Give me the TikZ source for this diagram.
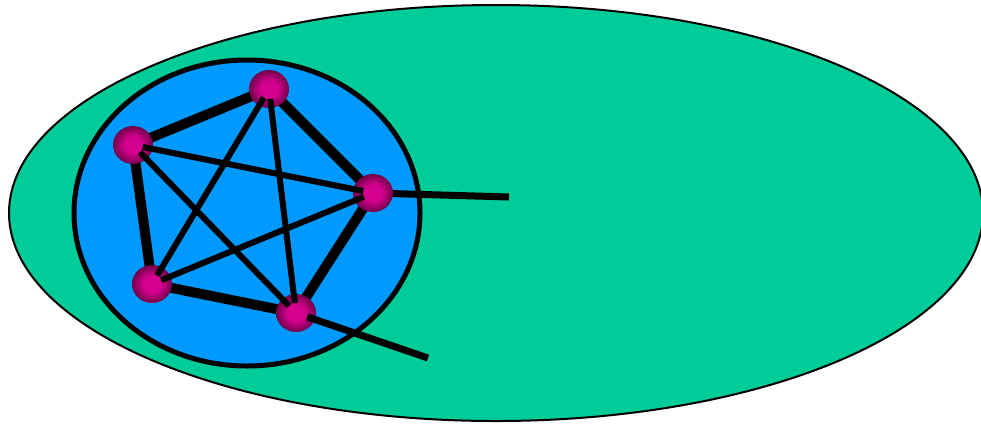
\documentclass[tikz,border=0pt]{standalone}
\usetikzlibrary{shapes.geometric}
\definecolor{greenbg}{HTML}{00CC99}
\definecolor{bluebg}{HTML}{0099FF}
\definecolor{magin}{HTML}{D4008F}
\definecolor{magout}{HTML}{700048}
\pgfdeclareradialshading{sphshade}{\pgfpoint{0bp}{0bp}}{color(0bp)=(magin); color(11bp)=(magin); color(25bp)=(magout); color(50bp)=(magout)}
\tikzset{
  sphere/.style={ellipse, minimum width=40pt, minimum height=38pt, inner sep=0pt, shading=sphshade},
  rim/.style={line width=10pt},
  star/.style={line width=6pt, shorten <=10pt, shorten >=10pt},
  tail/.style={line width=7pt}
}
\begin{document}
\begin{tikzpicture}[x=1pt,y=-1pt]
\useasboundingbox (0,0) rectangle (981,424);
\draw[fill=greenbg, line width=2pt] (496,213) ellipse [x radius=487, y radius=208];
\draw[fill=bluebg, line width=5pt] (247,213) ellipse [x radius=173, y radius=153];
\coordinate (A) at (269,89);
\coordinate (B) at (133,145);
\coordinate (C) at (373,193);
\coordinate (D) at (152,284);
\coordinate (E) at (296,313);
\coordinate (tc) at (509,197);
\coordinate (te) at (428,358);
\draw[rim] (A) -- (B);
\draw[rim] (A) -- (C);
\draw[rim] (C) -- (E);
\draw[rim] (E) -- (D);
\draw[rim] (D) -- (B);
\draw[tail] (C) -- (tc);
\node[sphere] (nA) at (A) {};
\node[sphere] (nB) at (B) {};
\node[sphere] (nC) at (C) {};
\node[sphere] (nD) at (D) {};
\node[sphere] (nE) at (E) {};
\draw[star] (nA.center) -- (nD.center);
\draw[star] (nA.center) -- (nE.center);
\draw[star] (nB.center) -- (nC.center);
\draw[star] (nB.center) -- (nE.center);
\draw[star] (nC.center) -- (nD.center);
\draw[tail, shorten <=12pt] (nE.center) -- (te);
\end{tikzpicture}
\end{document}
